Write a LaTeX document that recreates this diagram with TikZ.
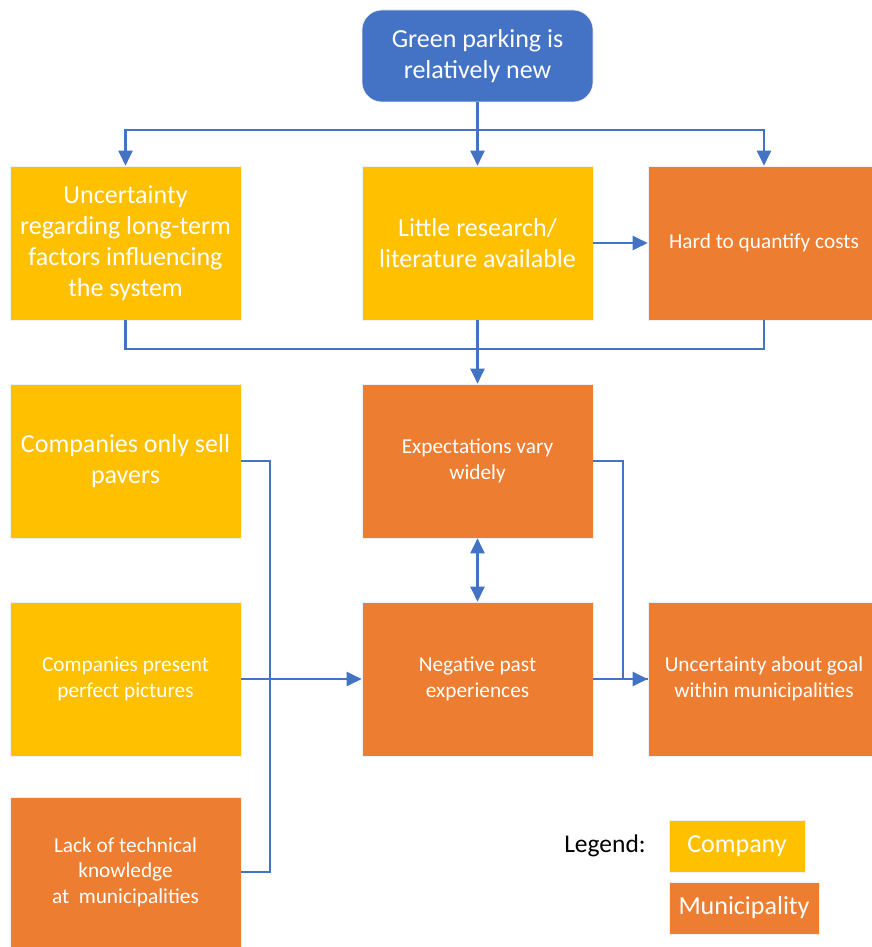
\documentclass[tikz,border=0pt]{standalone}
\usepackage{fontspec}
\setmainfont{Carlito}
\usetikzlibrary{arrows.meta,calc}
\definecolor{cblue}{HTML}{4472C4}
\definecolor{cyellow}{HTML}{FFC000}
\definecolor{corange}{HTML}{ED7D31}
\begin{document}
\begin{tikzpicture}[x=1pt,y=-1pt,
  box/.style={draw=white!88!gray,line width=0.6pt,minimum width=231pt,minimum height=154pt,
    text=white,align=center,inner sep=2pt},
  bigtxt/.style={font=\fontsize{26}{31}\selectfont},
  smalltxt/.style={font=\fontsize{21.3}{25.5}\selectfont},
  company/.style={box,fill=cyellow},
  municipal/.style={box,fill=corange},
  link/.style={cblue,line width=2.2pt},
  arr/.style={link,-{Triangle[length=15pt,width=14pt]}},
  darr/.style={link,{Triangle[length=15pt,width=14pt]}-{Triangle[length=15pt,width=14pt]}}]
\useasboundingbox (0,0) rectangle (872,947);

% top cause
\node[box,fill=cblue,minimum height=92pt,rounded corners=20pt,bigtxt] (gp) at (477.5,56)
  {Green parking is\\relatively new};

% first row
\node[company,bigtxt] (unc) at (125.5,243)
  {Uncertainty\\regarding long-term\\factors influencing\\the system};
\node[company,bigtxt] (lit) at (477.5,243) {Little research/\\literature available};
\node[municipal,smalltxt,minimum width=232pt] (hard) at (764,243) {Hard to quantify costs};

% second row
\node[company,bigtxt] (sell) at (125.5,461) {Companies only sell\\pavers};
\node[municipal,smalltxt] (exp) at (477.5,461) {Expectations vary\\widely};

% third row
\node[company,smalltxt] (pres) at (125.5,679) {Companies present\\perfect pictures};
\node[municipal,smalltxt] (neg) at (477.5,679) {Negative past\\experiences};
\node[municipal,smalltxt,minimum width=232pt] (goal) at (764,679)
  {Uncertainty about goal\\within municipalities};

% fourth row
\node[municipal,smalltxt,minimum height=150pt] (lack) at (125.5,872)
  {Lack of technical\\knowledge\\at\ \ municipalities};

% legend
\node[font=\fontsize{25.5}{30}\selectfont,text=black] (leg) at (605,846) {Legend:};
\node[box,fill=cyellow,minimum width=136pt,minimum height=52pt,bigtxt] (lcomp) at (737,846) {Company};
\node[box,fill=corange,minimum width=150pt,minimum height=52pt,bigtxt] (lmuni) at (744,908) {Municipality};

% connectors
\coordinate (split) at (477.5,130);
\coordinate (merge) at (477.5,349);
\draw[link] (gp.south) -- (split);
\draw[arr] (split) -| (unc.north);
\draw[arr] (split) -- (lit.north);
\draw[arr] (split) -| (hard.north);
\draw[arr] (lit.east) -- (hard.west);
\draw[link] (unc.south) |- (merge);
\draw[link] (hard.south) |- (merge);
\draw[arr] (lit.south) -- (exp.north);
\draw[darr] (exp.south) -- (neg.north);
\draw[link] (sell.east) -- ++(29,0) |- (lack.east);
\draw[arr] (pres.east) -- (neg.west);
\draw[link] (exp.east) -- ++(30,0) |- (goal.west);
\draw[arr] (neg.east) -- (goal.west);
\end{tikzpicture}
\end{document}
